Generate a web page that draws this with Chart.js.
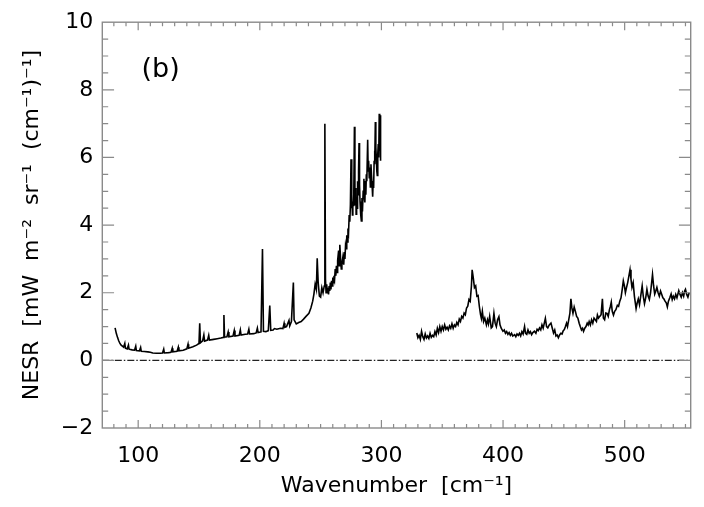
<!DOCTYPE html>
<html>
<head>
<meta charset="utf-8">
<script src="https://cdn.jsdelivr.net/npm/chart.js@4/dist/chart.umd.min.js"></script>
<style>
    html, body { margin: 0; padding: 0; background: #fff; }
</style>
</head>
<body>
<canvas id="nesrChart" width="704" height="507"></canvas>
<script>
// far-infrared band
let farWavenumbers = [
    81, 82, 83, 84, 85, 86, 87, 88, 89, 89.5,
    91, 92, 92.5, 95, 97, 98, 98.5, 101, 102, 102.5,
    105, 108, 110, 112, 115, 118, 120, 121, 121.5, 125,
    127, 128, 128.5, 132, 133, 133.5, 137, 140, 141, 141.5,
    145, 148, 150, 150.6, 151.2, 153, 154, 154.6, 157, 158,
    158.6, 162, 165, 168, 170, 170.5, 171, 173, 174, 174.6,
    178, 179, 179.6, 183, 184, 184.6, 188, 190, 191, 191.6,
    195, 197, 198, 198.6, 201, 202.2, 203, 205, 207, 208.2,
    209, 211, 212, 214, 217, 219, 220, 220.6, 222, 224,
    224.6, 226, 227.6, 228.2, 230, 232, 234, 236, 238, 240.4,
    242, 243.5, 244.5, 245.5, 246.5, 247.2, 248, 249, 250, 251,
    252, 253, 253.5, 254, 254.5, 255, 255.5, 256, 256.5, 257,
    257.5, 258, 258.5, 259, 259.5, 260, 260.5, 261, 261.5, 262,
    262.5, 263, 263.5, 264, 264.8, 265.3, 265.8, 266.5, 267, 267.5,
    268.3, 269, 269.5, 270, 270.5, 271, 271.5, 272, 272.5, 273,
    273.5, 274, 274.5, 275, 275.4, 275.8, 276.2, 276.5, 277.2, 277.8,
    278.2, 278.5, 279, 279.2, 279.6, 280, 280.4, 280.8, 281.2, 281.6,
    282, 282.4, 283, 283.5, 284, 284.4, 285, 285.6, 286, 286.4,
    286.8, 287.2, 287.6, 288, 288.7, 289.1, 289.5, 290, 290.5, 290.9,
    291.4, 291.8, 292.3, 292.8, 293.2, 293.6, 294, 294.3, 294.7, 295,
    295.4, 295.8, 296.2, 296.6, 297, 297.4, 297.8, 298.2, 298.6, 299,
    299.3
]
let farNesr = [
    0.96, 0.8, 0.68, 0.58, 0.5, 0.45, 0.42, 0.39, 0.5, 0.36,
    0.34, 0.45, 0.33, 0.31, 0.3, 0.42, 0.29, 0.28, 0.38, 0.27,
    0.26, 0.25, 0.24, 0.22, 0.21, 0.21, 0.22, 0.33, 0.22, 0.23,
    0.24, 0.36, 0.25, 0.27, 0.39, 0.28, 0.3, 0.34, 0.48, 0.36,
    0.4, 0.45, 0.5, 1.1, 0.52, 0.58, 0.75, 0.57, 0.6, 0.74,
    0.6, 0.62, 0.64, 0.66, 0.68, 1.34, 0.69, 0.7, 0.84, 0.7,
    0.72, 0.88, 0.72, 0.74, 0.9, 0.75, 0.77, 0.78, 0.92, 0.78,
    0.79, 0.81, 0.95, 0.82, 0.84, 3.29, 0.86, 0.85, 0.88, 1.62,
    0.89, 0.9, 0.94, 0.92, 0.95, 0.94, 1.1, 0.98, 1.0, 1.18,
    1.02, 1.15, 2.3, 1.2, 1.08, 1.12, 1.15, 1.22, 1.3, 1.39,
    1.55, 1.75, 1.96, 2.25, 2.1, 3.02, 2.3, 1.9, 1.87, 2.15,
    2.0, 2.2, 7.0, 2.4, 2.0, 2.25, 2.0, 2.15, 1.95, 2.2,
    2.05, 2.3, 2.1, 2.35, 2.2, 2.45, 2.3, 2.5, 2.4, 2.7,
    2.5, 2.8, 2.6, 2.95, 3.25, 2.8, 3.42, 2.95, 2.7, 2.85,
    3.05, 2.83, 3.2, 3.0, 3.4, 3.3, 3.7, 3.5, 3.9, 3.8,
    4.3, 4.1, 4.6, 5.95, 4.5, 4.9, 4.3, 4.7, 4.56, 6.91,
    5.0, 4.6, 5.1, 4.32, 4.8, 4.5, 5.3, 4.9, 5.6, 6.43,
    5.2, 4.7, 4.3, 4.12, 4.8, 4.4, 5.0, 5.37, 4.8, 4.67,
    5.3, 4.9, 5.5, 5.3, 6.52, 5.6, 5.9, 5.4, 5.7, 5.13,
    5.8, 5.5, 5.2, 4.84, 5.3, 5.1, 5.9, 6.2, 5.8, 7.05,
    6.3, 6.0, 5.6, 5.47, 6.1, 6.4, 6.0, 7.29, 6.2, 7.25,
    5.9
]

// mid-infrared band
let midWavenumbers = [
    329.1, 330, 331, 332, 333, 334, 335, 336, 337, 338,
    339, 340, 341, 342, 343, 344, 345, 346, 347, 348,
    349, 350, 351, 352, 353, 354, 355, 356, 357, 358,
    359, 360, 361, 362, 363, 364, 365, 366, 367, 368,
    369, 370, 371, 372, 373, 374, 374.6, 375.5, 376.5, 377.5,
    378.5, 379.5, 380.5, 381.5, 382.2, 383, 384, 385, 386.3, 387.2,
    388, 389, 390.3, 391.3, 392.5, 393.5, 394.5, 395.5, 396.6, 397.5,
    398.5, 399.9, 401, 402, 403, 404, 405, 406, 407, 408,
    409.5, 410.5, 411.5, 412.5, 413.5, 414.5, 415.5, 416.5, 417.7, 418.5,
    419.5, 420.5, 421.5, 422.5, 423.5, 424.5, 425.8, 427, 428, 429,
    430, 431, 432, 433, 434.8, 435.8, 436.8, 438, 439.4, 440.5,
    441.5, 442.5, 443.5, 444.5, 445.5, 446.5, 447.5, 448.5, 449.5, 450.4,
    451.3, 452.2, 453, 454, 455, 455.8, 456.6, 457.5, 458.5, 459.5,
    460.5, 461.5, 462.6, 463.5, 464.5, 465.4, 466.2, 467.2, 468.2, 469.2,
    470, 470.8, 471.8, 472.8, 473.8, 474.8, 475.8, 476.8, 477.6, 478.5,
    479.5, 480.6, 481.7, 482.5, 483.5, 484.5, 485.5, 486.5, 487.5, 488.3,
    489, 489.8, 490.8, 491.8, 492.8, 494, 495, 496, 497, 498,
    498.9, 499.8, 500.6, 501.5, 502.5, 503.5, 504.4, 505.2, 506, 507,
    508, 509.4, 510.3, 511.2, 512.2, 513.2, 514.4, 515.3, 516.3, 517.3,
    518.3, 519.3, 520.3, 521.3, 522.9, 523.8, 524.7, 525.6, 526.5, 527.5,
    528.5, 529.5, 530.5, 531.4, 532.2, 533.2, 534.2, 535.1, 536, 537.1,
    538.2, 539.1, 540, 541, 542, 543, 544.5, 545.5, 546.5, 547.5,
    548.5, 549.3, 550, 551, 552, 553
]
let midNesr = [
    0.81, 0.67, 0.74, 0.62, 0.86, 0.7, 0.62, 0.78, 0.66, 0.72,
    0.65, 0.8, 0.68, 0.74, 0.7, 0.85, 0.75, 0.95, 0.82, 1.0,
    0.86, 1.0, 0.9, 1.05, 0.92, 0.98, 0.9, 1.02, 0.95, 1.08,
    0.95, 1.05, 1.0, 1.12, 1.05, 1.22, 1.15, 1.3, 1.25, 1.4,
    1.35, 1.55, 1.6, 1.8, 1.75, 2.2, 2.68, 2.45, 2.15, 2.2,
    1.9, 1.92, 1.6, 1.35, 1.24, 1.45, 1.15, 1.25, 1.05, 1.2,
    1.08, 1.3, 0.96, 1.0, 1.39, 1.1, 1.0, 1.2, 1.29, 1.05,
    0.95, 0.86, 0.9, 0.8, 0.85, 0.77, 0.82, 0.74, 0.8, 0.72,
    0.76, 0.7, 0.78, 0.74, 0.8, 0.72, 0.85, 0.78, 1.0, 0.8,
    0.77, 0.9, 0.8, 0.85, 0.76, 0.82, 0.86, 0.8, 0.92, 0.88,
    0.96, 0.9, 1.05, 0.95, 1.24, 1.0, 0.96, 1.05, 1.1, 0.95,
    0.81, 0.9, 0.72, 0.75, 0.67, 0.75, 0.8, 0.78, 0.88, 0.91,
    1.0, 1.1, 1.0, 1.2, 1.4, 1.82, 1.55, 1.39, 1.58, 1.45,
    1.3, 1.25, 1.1, 1.0, 0.9, 0.95, 0.86, 0.95, 1.0, 1.1,
    1.05, 1.15, 1.05, 1.2, 1.1, 1.25, 1.2, 1.15, 1.34, 1.25,
    1.3, 1.35, 1.82, 1.25, 1.2, 1.4, 1.39, 1.3, 1.5, 1.6,
    1.72, 1.45, 1.34, 1.45, 1.5, 1.63, 1.6, 1.75, 1.85, 2.1,
    2.35, 2.2, 2.0, 2.15, 2.3, 2.5, 2.68, 2.4, 2.16, 2.3,
    1.9, 1.53, 1.7, 1.82, 1.65, 1.9, 2.2, 1.9, 1.68, 1.85,
    2.1, 1.9, 1.8, 2.0, 2.54, 2.2, 1.96, 2.05, 2.16, 2.0,
    1.9, 2.05, 1.95, 1.85, 1.82, 1.75, 1.7, 1.58, 1.75, 1.85,
    1.96, 1.8, 1.9, 1.82, 1.95, 1.85, 2.06, 1.95, 1.87, 2.0,
    1.9, 2.05, 2.1, 1.95, 1.87, 2.0
]

let xTickValues = [100, 200, 300, 400, 500]
let yTickValues = [-2, 0, 2, 4, 6, 8, 10]
let xRange = [70.5, 554.3]
let yRange = [-2, 10]
let panelLabel = '(b)'

const fontFamily = '"DejaVu Sans", sans-serif'

function toPoints(xs, ys) {
    return xs.map((x, i) => ({ x: x, y: ys[i] }))
}

// box frame with inward ticks on all four sides, like the IDL plot
const frameTicks = {
    id: 'frameTicks',
    afterDatasetsDraw(chart) {
        let { ctx, chartArea: a, scales: { x, y } } = chart
        let xMajor = 0.02 * (a.bottom - a.top)
        let yMajor = 0.02 * (a.right - a.left)
        ctx.save()
        ctx.strokeStyle = '#8a8a8a'
        ctx.lineWidth = 1.4
        ctx.strokeRect(a.left, a.top, a.right - a.left, a.bottom - a.top)
        ctx.lineWidth = 1.2
        ctx.beginPath()
        for (let v = 80; v < xRange[1]; v += 10) {
            let px = x.getPixelForValue(v)
            let len = v % 100 === 0 ? xMajor : xMajor / 2
            ctx.moveTo(px, a.bottom)
            ctx.lineTo(px, a.bottom - len)
            ctx.moveTo(px, a.top)
            ctx.lineTo(px, a.top + len)
        }
        for (let v = yRange[0] + 0.5; v < yRange[1]; v += 0.5) {
            let py = y.getPixelForValue(v)
            let len = v % 2 === 0 ? yMajor : yMajor / 2
            ctx.moveTo(a.left, py)
            ctx.lineTo(a.left + len, py)
            ctx.moveTo(a.right, py)
            ctx.lineTo(a.right - len, py)
        }
        ctx.stroke()
        ctx.fillStyle = '#000'
        ctx.font = '27px ' + fontFamily
        ctx.textAlign = 'center'
        ctx.textBaseline = 'middle'
        ctx.fillText(panelLabel, x.getPixelForValue(118.5), y.getPixelForValue(8.6))
        ctx.restore()
    }
}

let ctx = document.getElementById('nesrChart')
new Chart(ctx, {
    type: 'scatter',
    data: {
        datasets: [{
            data: toPoints(farWavenumbers, farNesr),
            showLine: true,
            borderColor: '#000',
            borderWidth: 1.6,
            pointRadius: 0,
            tension: 0,
        }, {
            data: toPoints(midWavenumbers, midNesr),
            showLine: true,
            borderColor: '#000',
            borderWidth: 1.6,
            pointRadius: 0,
            tension: 0,
        }, {
            data: [{ x: xRange[0], y: 0 }, { x: xRange[1], y: 0 }],
            showLine: true,
            borderColor: '#222',
            borderWidth: 1.2,
            borderDash: [7, 2, 1.5, 2],
            pointRadius: 0,
        }]
    },
    options: {
        responsive: false,
        animation: false,
        devicePixelRatio: 1,
        layout: { padding: { left: 0, right: 13.3, top: 11, bottom: 0 } },
        plugins: {
            legend: { display: false },
            tooltip: { enabled: false },
        },
        scales: {
            x: {
                type: 'linear',
                min: xRange[0],
                max: xRange[1],
                afterBuildTicks: scale => {
                    scale.ticks = xTickValues.map(v => ({ value: v }))
                },
                afterFit: scale => { scale.height = 79 },
                grid: { display: false, drawTicks: false },
                border: { display: false },
                ticks: {
                    color: '#000',
                    padding: 15,
                    maxRotation: 0,
                    font: { family: fontFamily, size: 22 },
                },
                title: {
                    display: true,
                    text: 'Wavenumber  [cm⁻¹]',
                    color: '#000',
                    padding: { top: 0, bottom: 8 },
                    font: { family: fontFamily, size: 22 },
                },
            },
            y: {
                min: yRange[0],
                max: yRange[1],
                afterBuildTicks: scale => {
                    scale.ticks = yTickValues.map(v => ({ value: v }))
                },
                afterFit: scale => { scale.width = 102.3 },
                grid: { display: false, drawTicks: false },
                border: { display: false },
                ticks: {
                    color: '#000',
                    padding: 9,
                    font: { family: fontFamily, size: 22 },
                    callback: v => v < 0 ? '\u2212' + Math.abs(v) : String(v),
                },
                title: {
                    display: true,
                    text: 'NESR  [mW  m⁻²  sr⁻¹  (cm⁻¹)⁻¹]',
                    color: '#000',
                    padding: { top: 19, bottom: 0 },
                    font: { family: fontFamily, size: 22 },
                },
            },
        },
    },
    plugins: [frameTicks],
})
</script>
</body>
</html>
